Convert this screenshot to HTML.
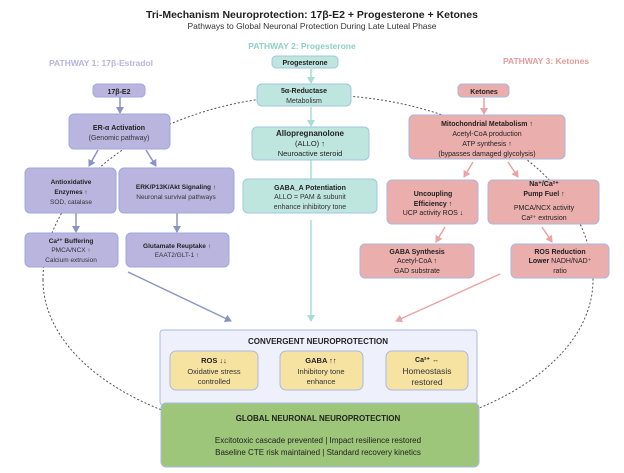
<!DOCTYPE html>
<html><head><meta charset="utf-8"><style>
html,body{margin:0;padding:0;background:#fff}
svg{display:block;font-family:"Liberation Sans",sans-serif}
</style></head><body>
<svg width="624" height="473" viewBox="0 0 624 473" xmlns="http://www.w3.org/2000/svg">
<defs>
<marker id="ap" markerWidth="8" markerHeight="8" refX="6" refY="4" orient="auto" markerUnits="userSpaceOnUse"><path d="M0,0 L7,4 L0,8 z" fill="#8a94c4"/></marker>
<marker id="at" markerWidth="8" markerHeight="8" refX="6" refY="4" orient="auto" markerUnits="userSpaceOnUse"><path d="M0,0 L7,4 L0,8 z" fill="#a8ddd4"/></marker>
<marker id="ak" markerWidth="8" markerHeight="8" refX="6" refY="4" orient="auto" markerUnits="userSpaceOnUse"><path d="M0,0 L7,4 L0,8 z" fill="#eba3a3"/></marker>
</defs>
<rect width="624" height="473" fill="#fff"/>
<path d="M43,280 A275,185 0 0 1 593,280 A275,158 0 0 1 43,280 Z" fill="none" stroke="#555" stroke-width="1" stroke-dasharray="2,2"/>
<text x="312" y="18" text-anchor="middle" font-size="10.5" font-weight="bold" fill="#222">Tri-Mechanism Neuroprotection: 17β-E2 + Progesterone + Ketones</text>
<text x="312" y="29" text-anchor="middle" font-size="8.5" fill="#333">Pathways to Global Neuronal Protection During Late Luteal Phase</text>
<text x="302" y="49" text-anchor="middle" font-size="8.5" font-weight="bold" fill="#8fd0c4">PATHWAY 2: Progesterone</text>
<text x="101" y="66" text-anchor="middle" font-size="8.5" font-weight="bold" fill="#b8b4dc">PATHWAY 1: 17β-Estradol</text>
<text x="546" y="64" text-anchor="middle" font-size="8.5" font-weight="bold" fill="#e59a9a">PATHWAY 3: Ketones</text>
<g>
<line x1="120" y1="97" x2="120" y2="113" stroke="#8a94c4" stroke-width="1.5" marker-end="url(#ap)"/>
<line x1="98" y1="150" x2="89" y2="166" stroke="#8a94c4" stroke-width="1.5" marker-end="url(#ap)"/>
<line x1="146" y1="150" x2="156" y2="166" stroke="#8a94c4" stroke-width="1.5" marker-end="url(#ap)"/>
<line x1="76" y1="213" x2="76" y2="232" stroke="#8a94c4" stroke-width="1.5" marker-end="url(#ap)"/>
<line x1="177" y1="213" x2="177" y2="232" stroke="#8a94c4" stroke-width="1.5" marker-end="url(#ap)"/>
<line x1="128" y1="272" x2="231" y2="321" stroke="#8a94c4" stroke-width="1.5" marker-end="url(#ap)"/>
<line x1="311" y1="69" x2="311" y2="83" stroke="#a8ddd4" stroke-width="1.5" marker-end="url(#at)"/>
<line x1="311" y1="107" x2="311" y2="126" stroke="#a8ddd4" stroke-width="1.5" marker-end="url(#at)"/>
<line x1="311" y1="160" x2="311" y2="179" stroke="#a8ddd4" stroke-width="1.5"/>
<line x1="311" y1="220" x2="311" y2="321" stroke="#a8ddd4" stroke-width="1.5" marker-end="url(#at)"/>
<line x1="484" y1="98" x2="484" y2="114" stroke="#eba3a3" stroke-width="1.5" marker-end="url(#ak)"/>
<line x1="473" y1="162" x2="464" y2="177" stroke="#eba3a3" stroke-width="1.5" marker-end="url(#ak)"/>
<line x1="508" y1="162" x2="518" y2="177" stroke="#eba3a3" stroke-width="1.5" marker-end="url(#ak)"/>
<line x1="445" y1="227" x2="436" y2="242" stroke="#eba3a3" stroke-width="1.5" marker-end="url(#ak)"/>
<line x1="542" y1="227" x2="552" y2="242" stroke="#eba3a3" stroke-width="1.5" marker-end="url(#ak)"/>
<line x1="500" y1="274" x2="396" y2="321" stroke="#eba3a3" stroke-width="1.5" marker-end="url(#ak)"/>
</g>
<g fill="#b9b5de" stroke="#9ea9dc" stroke-width="1">
<rect x="93" y="84" width="52" height="13" rx="4"/>
<rect x="69" y="114" width="101" height="35" rx="5"/>
<rect x="25" y="168" width="91" height="45" rx="5"/>
<rect x="119" y="168" width="115" height="45" rx="5"/>
<rect x="25" y="233" width="93" height="34" rx="5"/>
<rect x="126" y="233" width="103" height="34" rx="5"/>
</g>
<g fill="#bfe5df" stroke="#9ec8e0" stroke-width="1">
<rect x="272" y="56" width="66" height="12" rx="4"/>
<rect x="257" y="84" width="94" height="22" rx="5"/>
<rect x="252" y="127" width="117" height="33" rx="5"/>
<rect x="243" y="179" width="134" height="34" rx="5"/>
</g>
<g fill="#eaaeac" stroke="#a9b6e2" stroke-width="1">
<rect x="458" y="84" width="51" height="13" rx="4"/>
<rect x="409" y="115" width="156" height="44" rx="5"/>
<rect x="387" y="180" width="91" height="44" rx="5"/>
<rect x="488" y="180" width="111" height="44" rx="5"/>
<rect x="360" y="244" width="114" height="34" rx="5"/>
<rect x="511" y="244" width="98" height="34" rx="5"/>
</g>
<rect x="160" y="330" width="317" height="75" rx="3" fill="#eef1fb" stroke="#aab8e2"/>
<g fill="#f6e3a2" stroke="#aab8e2">
<rect x="170" y="351" width="88" height="39" rx="6"/>
<rect x="280" y="351" width="83" height="39" rx="6"/>
<rect x="386" y="351" width="82" height="39" rx="6"/>
</g>
<rect x="161" y="403" width="318" height="64" rx="5" fill="#9dc67a" stroke="#aab8e2"/>
<g text-anchor="middle" fill="#222" font-size="7.5">
<text x="305" y="65" font-weight="bold" font-size="7">Progesterone</text>
<text x="119" y="94" font-weight="bold" font-size="7">17β-E2</text>
<text x="484" y="94" font-weight="bold" font-size="7">Ketones</text>
<text x="304" y="93" font-weight="bold" font-size="7">5α-Reductase</text>
<text x="304" y="103" fill="#333" font-size="7">Metabolism</text>
<text x="119" y="130" font-weight="bold" font-size="7">ER-α Activation</text>
<text x="119" y="140" fill="#333" font-size="7">(Genomic pathway)</text>
<text x="310" y="136" font-weight="bold" font-size="8">Allopregnanolone</text>
<text x="310" y="146">(ALLO) ↑</text>
<text x="310" y="156">Neuroactive steroid</text>
<text x="487" y="126" font-weight="bold" font-size="7">Mitochondrial Metabolism ↑</text>
<text x="487" y="136" font-size="7">Acetyl-CoA production</text>
<text x="487" y="146" font-size="7">ATP synthesis ↑</text>
<text x="487" y="156" font-size="7">(bypasses damaged glycolysis)</text>
<text x="71" y="184" font-weight="bold" font-size="6.5">Antioxidative</text>
<text x="71" y="194" font-weight="bold" font-size="6.5">Enzymes ↑</text>
<text x="71" y="204" fill="#333" font-size="6.5">SOD, catalase</text>
<text x="176" y="189" font-weight="bold" font-size="6.5">ERK/P13K/Akt Signaling ↑</text>
<text x="176" y="199" fill="#333" font-size="6.5">Neuronal survival pathways</text>
<text x="310" y="190" font-weight="bold" font-size="7">GABA_A Potentiation</text>
<text x="310" y="199" fill="#333" font-size="7">ALLO = PAM &amp; subunit</text>
<text x="310" y="209" fill="#333" font-size="7">enhance inhibitory tone</text>
<text x="433" y="196" font-weight="bold" font-size="7">Uncoupling</text>
<text x="433" y="206" font-weight="bold" font-size="7">Efficiency ↑</text>
<text x="433" y="215" font-size="7">UCP activity ROS ↓</text>
<text x="544" y="186" font-weight="bold" font-size="7">Na⁺/Ca²⁺</text>
<text x="544" y="196" font-weight="bold" font-size="7">Pump Fuel ↑</text>
<text x="544" y="210" font-size="7">PMCA/NCX activity</text>
<text x="544" y="220" font-size="7">Ca²⁺ extrusion</text>
<text x="71" y="243" font-weight="bold" font-size="6.5">Ca²⁺ Buffering</text>
<text x="71" y="252" fill="#333" font-size="6.5">PMCA/NCX ↑</text>
<text x="71" y="262" fill="#333" font-size="6.5">Calcium extrusion</text>
<text x="177" y="248" font-weight="bold" font-size="6.5">Glutamate Reuptake ↑</text>
<text x="177" y="257" fill="#333" font-size="6.5">EAAT2/GLT-1 ↑</text>
<text x="417" y="254" font-weight="bold" font-size="7">GABA Synthesis</text>
<text x="417" y="263" font-size="7">Acetyl-CoA ↑</text>
<text x="417" y="273" font-size="7">GAD substrate</text>
<text x="560" y="254" font-weight="bold" font-size="7">ROS Reduction</text>
<text x="560" y="263" font-size="7"><tspan font-weight="bold">Lower</tspan> NADH/NAD⁺</text>
<text x="560" y="273" font-size="7">ratio</text>
<text x="318" y="344" font-weight="bold" font-size="8">CONVERGENT NEUROPROTECTION</text>
<text x="214" y="363" font-weight="bold">ROS  ↓↓</text>
<text x="214" y="374" fill="#333">Oxidative stress</text>
<text x="214" y="384" fill="#333">controlled</text>
<text x="321" y="363" font-weight="bold">GABA ↑↑</text>
<text x="321" y="374" fill="#333">Inhibitory tone</text>
<text x="321" y="384" fill="#333">enhance</text>
<text x="427" y="362" font-weight="bold" font-size="7">Ca²⁺ ↔</text>
<text x="427" y="374" fill="#333" font-size="8.5">Homeostasis</text>
<text x="427" y="385" fill="#333" font-size="8.5">restored</text>
<text x="318" y="421" font-weight="bold" font-size="8">GLOBAL NEURONAL NEUROPROTECTION</text>
<text x="318" y="443" font-size="8">Excitotoxic cascade prevented | Impact resilience restored</text>
<text x="318" y="455" font-size="8">Baseline CTE risk maintained | Standard recovery kinetics</text>
</g>
</svg>
</body></html>
